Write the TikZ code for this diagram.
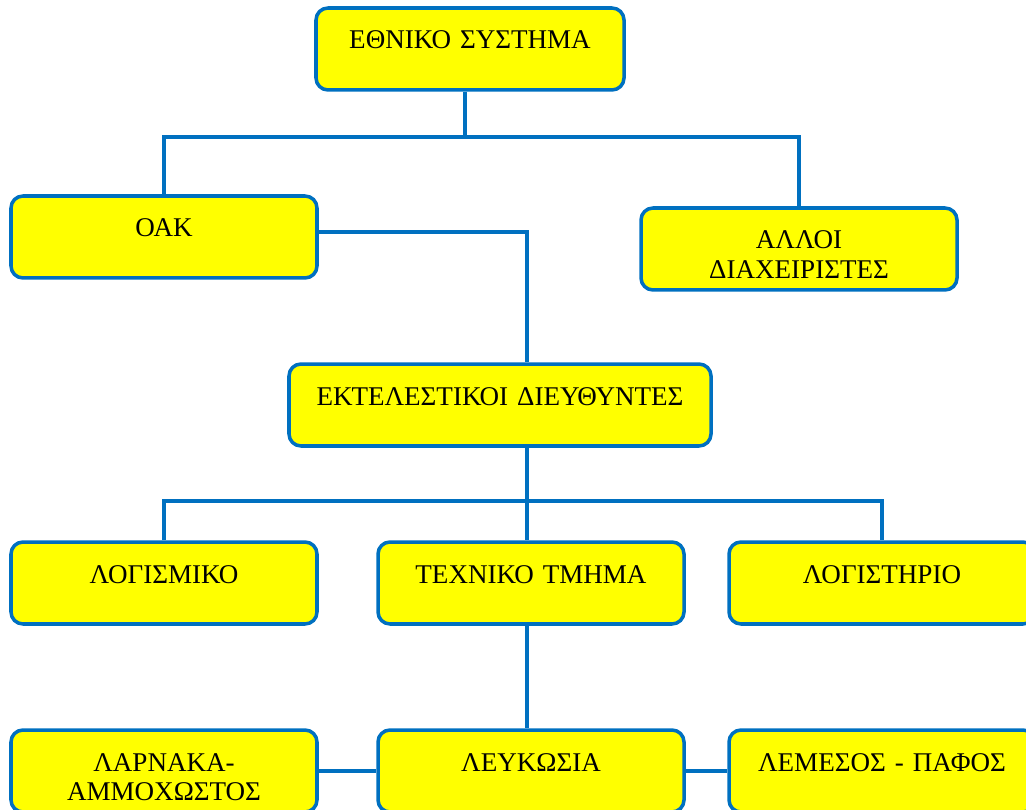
\documentclass[tikz,border=0pt]{standalone}
\usepackage{fontspec}
\setmainfont{Liberation Serif}
\definecolor{orgblue}{RGB}{0,112,192}
\definecolor{orgyellow}{RGB}{255,255,0}
\begin{document}
\begin{tikzpicture}[
        x=0.02cm, y=-0.02cm,
        orgbox/.style={draw=orgblue, fill=orgyellow, line width=2pt,
            rounded corners=0.24cm, align=center, text width=#1*0.02cm,
            inner xsep=0pt, inner ysep=0pt, text height=0.82cm, text depth=0.82cm,
            font=\fontsize{15.4}{17}\selectfont},
        orgbox/.default=306,
        conn/.style={draw=orgblue, line width=2pt}
    ]
        \clip (0,0) rectangle (1026,810);

        % Các ô
        \node [orgbox=308] (ethniko) at (470,49) {ΕΘΝΙΚΟ ΣΥΣΤΗΜΑ};
        \node [orgbox] (oak) at (164,237) {ΟΑΚ};
        \node [orgbox=316] (alloi) at (799,249) {ΑΛΛΟΙ\\ΔΙΑΧΕΙΡΙΣΤΕΣ};
        \node [orgbox=422] (ektel) at (500,405) {ΕΚΤΕΛΕΣΤΙΚΟΙ ΔΙΕΥΘΥΝΤΕΣ};
        \node [orgbox] (logismiko) at (164,583) {ΛΟΓΙΣΜΙΚΟ};
        \node [orgbox] (texniko) at (531,583) {ΤΕΧΝΙΚΟ ΤΜΗΜΑ};
        \node [orgbox] (logistirio) at (882,583) {ΛΟΓΙΣΤΗΡΙΟ};
        \node [orgbox] (larnaka) at (164,771) {ΛΑΡΝΑΚΑ-\\ΑΜΜΟΧΩΣΤΟΣ};
        \node [orgbox] (lefkosia) at (531,771) {ΛΕΥΚΩΣΙΑ};
        \node [orgbox] (lemesos) at (882,771) {ΛΕΜΕΣΟΣ - ΠΑΦΟΣ};

        % Σημεία διακλάδωσης
        \coordinate (bus1) at (465,137);
        \coordinate (bus2) at (527,501);

        % Συνδέσεις
        \draw[conn] (ethniko.south -| bus1) -- (bus1);
        \draw[conn] (oak.north) |- (bus1) -| (alloi.north);
        \draw[conn] ([yshift=0.1cm]oak.east) -| (ektel.north -| bus2);
        \draw[conn] (ektel.south -| bus2) -- (bus2);
        \draw[conn] (logismiko.north) |- (bus2) -| (logistirio.north);
        \draw[conn] (bus2) -- (texniko.north -| bus2);
        \draw[conn] (texniko.south -| bus2) -- (lefkosia.north -| bus2);
        \draw[conn] (larnaka.east) -- (lefkosia.west);
        \draw[conn] (lefkosia.east) -- (lemesos.west);
    \end{tikzpicture}
\end{document}
